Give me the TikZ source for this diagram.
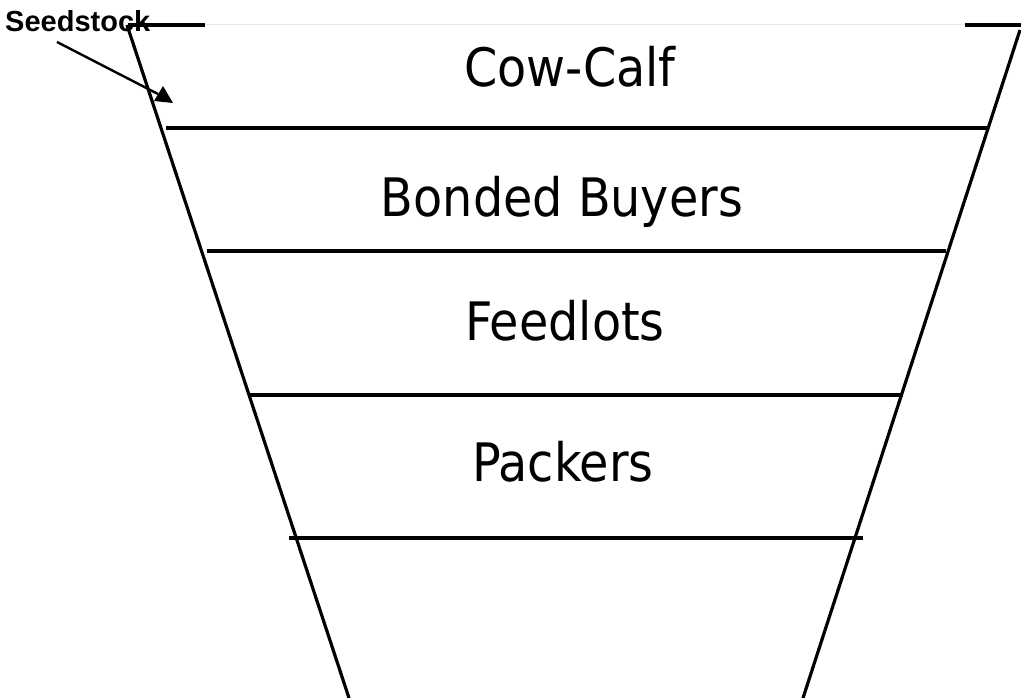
\documentclass[tikz,border=0pt]{standalone}
\usepackage{fontspec}
\setmainfont{DejaVu Sans Condensed}
\newfontfamily\labelfont{Liberation Sans}
\begin{document}
\begin{tikzpicture}[x=1pt,y=-1pt,
  funnel/.style={line width=3.2pt},
  tier/.style={line width=3.2pt},
  tiertext/.style={anchor=base,inner sep=0pt,font=\fontsize{53}{60}\selectfont},
  seedtext/.style={anchor=base west,inner sep=0pt,font=\labelfont\bfseries\fontsize{29}{32}\selectfont}]
\useasboundingbox (0,0) rectangle (1021,698);
% funnel sides
\coordinate (lt) at (127,25);
\coordinate (lb) at (349,698);
\coordinate (rt) at (1020,30);
\coordinate (rb) at (803,698);
\draw[funnel] (lt) -- (lb);
\draw[funnel] (rt) -- (rb);
% top line
\coordinate (t1) at (128,25);
\coordinate (t2) at (205,25);
\coordinate (t3) at (965,25);
\coordinate (t4) at (1021,25);
\draw[tier] (t1) -- (t2);
\draw[line width=1pt,black!10] (t2) -- (t3);
\draw[tier] (t3) -- (t4);
% tier lines
\coordinate (a1) at (166,128); \coordinate (a2) at (987,128);
\coordinate (b1) at (207,251); \coordinate (b2) at (946,251);
\coordinate (c1) at (248,395); \coordinate (c2) at (903,395);
\coordinate (d1) at (289,538); \coordinate (d2) at (863,538);
\draw[tier] (a1) -- (a2);
\draw[tier] (b1) -- (b2);
\draw[tier] (c1) -- (c2);
\draw[tier] (d1) -- (d2);
% labels
\node[tiertext] (cow) at (570,87) {Cow-Calf};
\node[tiertext] (bond) at (562,217) {Bonded Buyers};
\node[tiertext] (feed) at (565,340) {Feedlots};
\node[tiertext] (pack) at (563,481) {Packers};
% seedstock
\node[seedtext] (seed) at (5,32) {Seedstock};
\coordinate (s0) at (57,42);
\coordinate (s1) at (158,94);
\draw[line width=2.4pt] (s0) -- (s1);
\fill (163,86) -- (154,101) -- (173,103) -- cycle;
\end{tikzpicture}
\end{document}
